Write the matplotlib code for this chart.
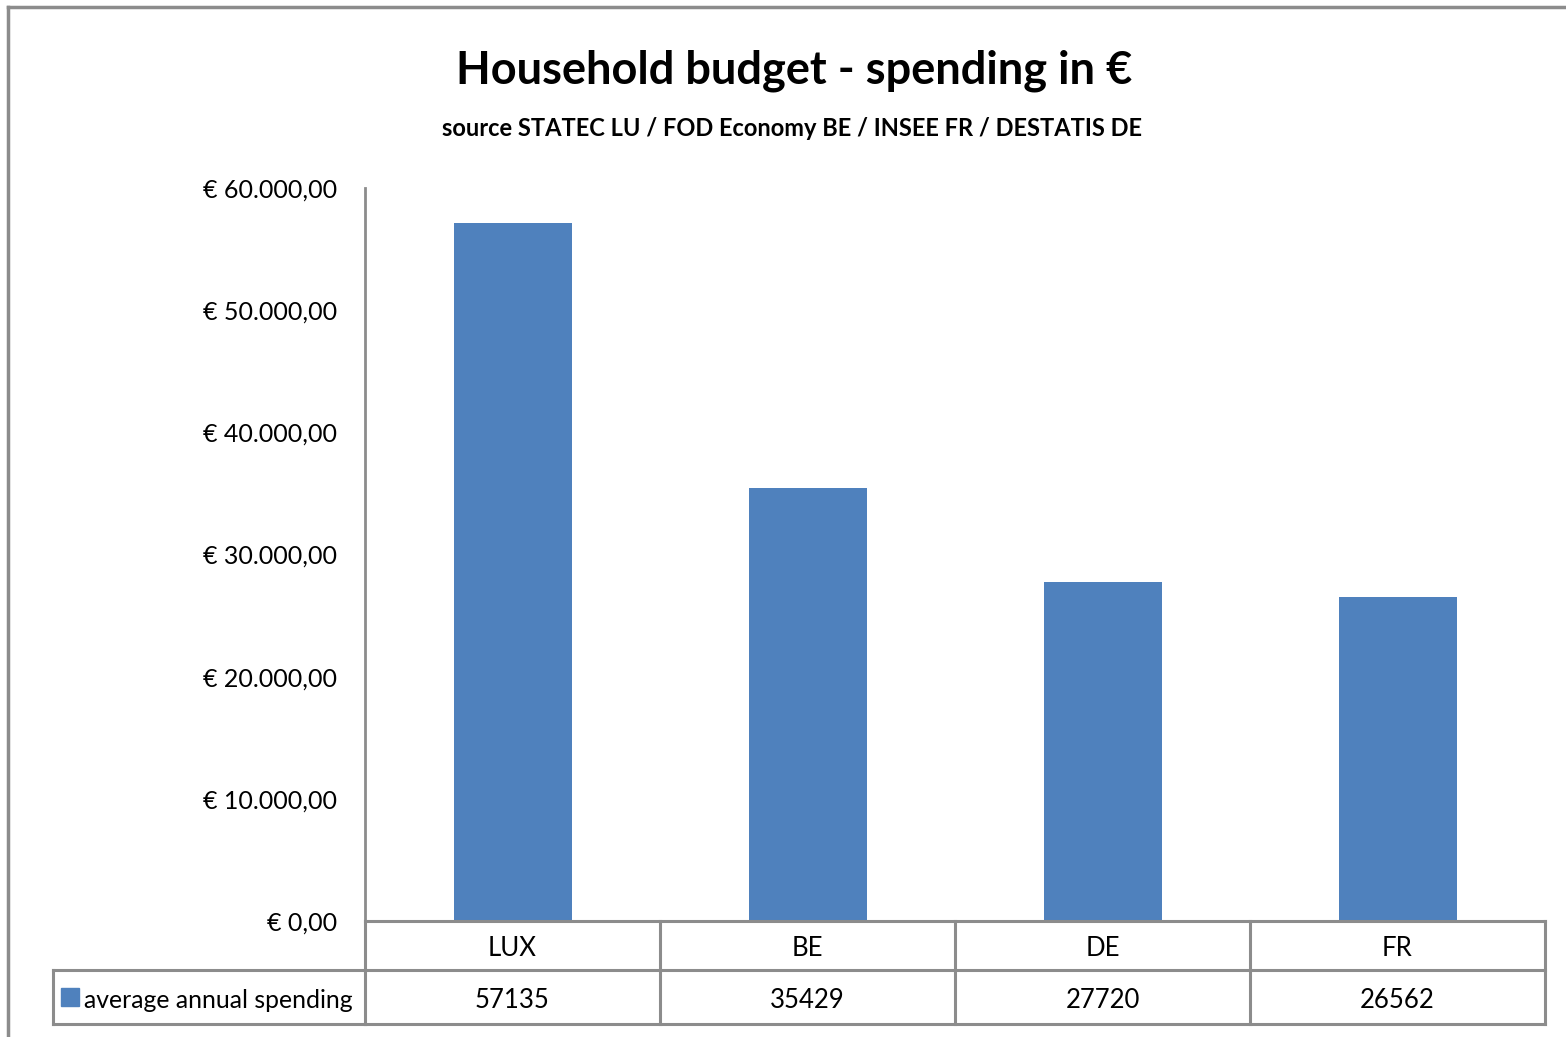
"""Household budget - average annual spending per country, Excel-style bar chart with data table."""

import matplotlib
matplotlib.use("Agg")
import matplotlib.pyplot as plt
from matplotlib.lines import Line2D
from matplotlib.patches import Rectangle
from matplotlib.ticker import FuncFormatter, MultipleLocator

# Lato is the closest installed face to Calibri
plt.rcParams["font.family"] = ["Lato", "DejaVu Sans"]

countries = ["LUX", "BE", "DE", "FR"]
spending = [57135, 35429, 27720, 26562]
series_name = "average annual spending"

BAR_COLOR = "#4F81BD"
LINE_COLOR = "#8C8C8C"

W, H = 1566, 1037
fig = plt.figure(figsize=(W / 100, H / 100), dpi=100)
ax = fig.add_axes([365 / W, 1 - 921 / H, 1180 / W, 733 / H])

x = range(len(countries))
ax.bar(x, spending, width=0.40, color=BAR_COLOR, zorder=2)

ax.set_xlim(-0.5, len(countries) - 0.5)
ax.set_ylim(0, 60000)
ax.yaxis.set_major_locator(MultipleLocator(10000))


def euro(v, _pos):
    s = f"{v:,.2f}".replace(",", "X").replace(".", ",").replace("X", ".")
    return f"€ {s}"


ax.yaxis.set_major_formatter(FuncFormatter(euro))
ax.tick_params(axis="y", length=0, pad=20, labelsize=18)
ax.set_xticks([])
for side in ["top", "right", "bottom"]:
    ax.spines[side].set_visible(False)
ax.spines["left"].set_color(LINE_COLOR)
ax.spines["left"].set_linewidth(2)

# data table below the plot (x in data units, y in axes fraction)
row1, row2 = -0.0668, -0.1405
label_left = -0.2644
tr = ax.get_xaxis_transform()
n = len(countries)
lkw = dict(color=LINE_COLOR, linewidth=2.2, clip_on=False)
ax.add_line(Line2D([-0.5, n - 0.5], [0, 0], transform=tr, **lkw))
ax.add_line(Line2D([-0.5, n - 0.5], [row1, row1], transform=tr, **lkw))
ax.add_line(Line2D([-0.5, n - 0.5], [row2, row2], transform=tr, **lkw))
for b in range(n + 1):
    ax.add_line(Line2D([b - 0.5, b - 0.5], [0, row2], transform=tr, **lkw))
# label column
ax.add_line(Line2D([label_left, 0], [row1, row1], transform=ax.transAxes, **lkw))
ax.add_line(Line2D([label_left, 0], [row2, row2], transform=ax.transAxes, **lkw))
ax.add_line(Line2D([label_left, label_left], [row1, row2], transform=ax.transAxes, **lkw))

y_cat, y_val = -0.0375, -0.1085
for i, (c, v) in enumerate(zip(countries, spending)):
    ax.text(i, y_cat, c, transform=tr, ha="center", va="center", fontsize=18.5)
    ax.text(i, y_val, str(v), transform=tr, ha="center", va="center", fontsize=18.5)

ax.add_patch(Rectangle((-0.2576, (row1 + row2) / 2 - 0.0123), 0.0153, 0.0246,
                       transform=ax.transAxes, color=BAR_COLOR, clip_on=False))
ax.text(-0.2385, y_val, series_name, transform=ax.transAxes,
        ha="left", va="center", fontsize=17.8)

# titles
fig.text(0.5072, 1 - 71 / H, "Household budget - spending in €", ha="center", va="center",
         fontsize=32.5, fontweight="bold")
fig.text(0.5055, 1 - 128 / H, "source STATEC LU / FOD Economy BE / INSEE FR / DESTATIS DE",
         ha="center", va="center", fontsize=17, fontweight="bold")

# chart area frame (right and bottom edges lie outside the image)
fig.add_artist(Line2D([8 / W, 8 / W], [0, 1 - 7 / H], transform=fig.transFigure,
                      color="#8C8C8C", linewidth=2.5))
fig.add_artist(Line2D([8 / W, 1], [1 - 7 / H, 1 - 7 / H], transform=fig.transFigure,
                      color="#8C8C8C", linewidth=2.5))

fig.savefig("out.png", dpi=100)
